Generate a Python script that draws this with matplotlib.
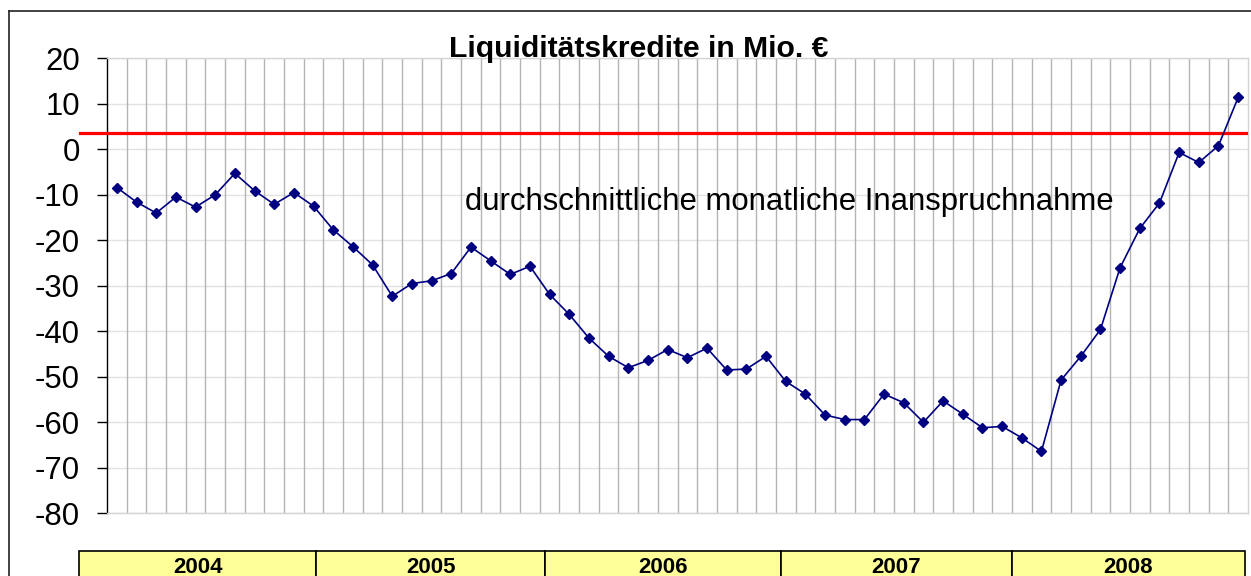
import numpy as np
import matplotlib
matplotlib.use("Agg")
import matplotlib.pyplot as plt
from matplotlib.patches import Rectangle
from matplotlib.lines import Line2D

# ================= DATA =================
# monthly average use of liquidity credits, Mio. EUR (Jan 2004 .. Oct 2008)
values = [
    -8.4, -11.6, -14.0, -10.5, -12.7, -10.0, -5.3, -9.1, -12.1, -9.5, -12.5, -17.7,
    -21.4, -25.4, -32.3, -29.5, -28.9, -27.3, -21.5, -24.5, -27.5, -25.7, -31.9, -36.3,
    -41.5, -45.5, -48.0, -46.4, -44.0, -45.8, -43.7, -48.5, -48.3, -45.5, -51.0, -53.8,
    -58.4, -59.4, -59.4, -53.8, -55.7, -60.0, -55.3, -58.2, -61.2, -60.9, -63.4, -66.4,
    -50.7, -45.5, -39.6, -26.0, -17.4, -11.8, -0.7, -2.9, 0.8, 11.4,
]
ref_level = 3.6
years = ["2004", "2005", "2006", "2007", "2008"]
y_ticks = [20, 10, 0, -10, -20, -30, -40, -50, -60, -70, -80]

TITLE = "Liquiditätskredite in Mio. €"
NOTE = "durchschnittliche monatliche Inanspruchnahme"

# ================= LAYOUT (pixels) =================
W, H = 1251, 576
AX_LEFT, AX_RIGHT, AX_TOP, AX_BOTTOM = 107, 1248, 58.3, 513.3
TABLE_EDGES = [79, 316, 545, 781, 1012, 1245]
TABLE_TOP, TABLE_BOTTOM = 551, 584

plt.rcParams['font.family'] = ['Liberation Sans', 'DejaVu Sans']

fig = plt.figure(figsize=(W / 100, H / 100), dpi=100)

ax = fig.add_axes([AX_LEFT / W, 1 - AX_BOTTOM / H,
                   (AX_RIGHT - AX_LEFT) / W, (AX_BOTTOM - AX_TOP) / H])

n = len(values)
x = np.arange(n) + 0.5
ax.set_xlim(0, n)
ax.set_ylim(min(y_ticks), max(y_ticks))

# month grid (vertical) and value grid (horizontal)
for k in range(1, n):
    ax.axvline(k, color='#b4b4b4', lw=1.0, zorder=1)
for t in y_ticks:
    ax.axhline(t, color='#e2e2e2', lw=1.0, zorder=0.5)

ax.set_yticks(y_ticks)
ax.set_yticklabels([str(t) for t in y_ticks], fontsize=22.4)
ax.tick_params(axis='y', direction='out', length=7.5, width=1, pad=12, colors='black')
ax.set_xticks([])

for side in ['top', 'right', 'bottom']:
    ax.spines[side].set_color('#d4d4d4')
    ax.spines[side].set_linewidth(1.0)
ax.spines['left'].set_color('black')
ax.spines['left'].set_linewidth(1.0)

# reference line, reaching past the left axis
x0 = (79.5 - AX_LEFT) / (AX_RIGHT - AX_LEFT)
x1 = (1246 - AX_LEFT) / (AX_RIGHT - AX_LEFT)
ax.axhline(ref_level, xmin=x0, xmax=x1, color='#ff0000', lw=2.3, clip_on=False, zorder=3)

ax.plot(x, values, color='#000080', lw=1.2, marker='D', markersize=5.5,
        markerfacecolor='#000080', markeredgecolor='#000080', zorder=4)

ax.text(34.7, -11.6, NOTE, fontsize=22.4, ha='center', va='center', zorder=5)

fig.text(639 / W, 1 - 57 / H, TITLE, fontsize=21.7, fontweight='bold',
         ha='center', va='baseline')

# outer chart frame
fig.add_artist(Line2D([9 / W, 9 / W], [1 - 11 / H, 0], color='#222222', lw=1.2,
                      transform=fig.transFigure))
fig.add_artist(Line2D([9 / W, 1], [1 - 11 / H, 1 - 11 / H], color='#222222', lw=1.2,
                      transform=fig.transFigure))

# year table under the chart
for i, yr in enumerate(years):
    l, r = TABLE_EDGES[i], TABLE_EDGES[i + 1]
    fig.add_artist(Rectangle((l / W, 1 - TABLE_BOTTOM / H), (r - l) / W,
                             (TABLE_BOTTOM - TABLE_TOP) / H,
                             facecolor='#ffff99', edgecolor='black', lw=1.2,
                             transform=fig.transFigure))
    fig.text((l + r) / 2 / W, 1 - 567.5 / H, yr, fontsize=16, fontweight='bold',
             ha='center', va='center')

fig.savefig("out.png", dpi=100)
